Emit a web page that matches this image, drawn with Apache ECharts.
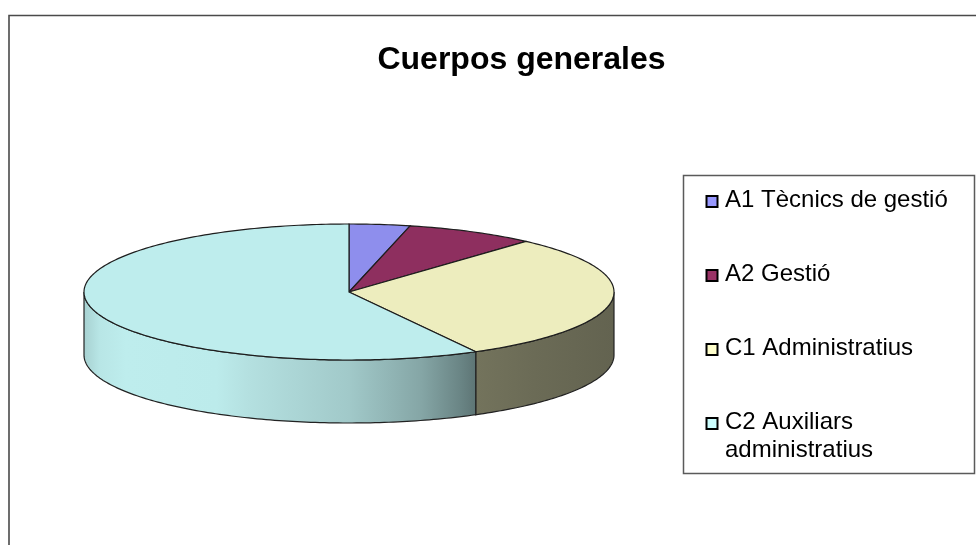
<!DOCTYPE html>
<html>
<head>
<meta charset="utf-8">
<style>
html,body{margin:0;padding:0;background:#fff;}
#chart{width:976px;height:545px;}
</style>
<script src="https://cdn.jsdelivr.net/npm/echarts@6/dist/echarts.min.js"></script>
</head>
<body>
<div id="chart"></div>
<script>
// ---- data ----
const titleText = 'Cuerpos generales';
const categories = ['A1 Tècnics de gestió', 'A2 Gestió', 'C1 Administratius', 'C2 Auxiliars administratius'];
const values = [14, 30, 115, 219];
const colors = ['#9999FF', '#993366', '#FFFFCC', '#CCFFFF'];

// ---- layout (styling only) ----
const CX = 349, CY = 292, RX = 265, RY = 68, DEPTH = 63;
const TOP_F = 0.93;
const SIDE_STOPS = [[0, 0.82], [0.03, 0.9], [0.08, 0.93], [0.25, 0.92], [0.31, 0.88], [0.5, 0.79],
  [0.636, 0.65], [0.71, 0.52], [0.743, 0.45], [0.85, 0.42], [1, 0.39]];

function shade(hex, f) {
  const n = parseInt(hex.slice(1), 16);
  const r = Math.round(((n >> 16) & 255) * f), g = Math.round(((n >> 8) & 255) * f), b = Math.round((n & 255) * f);
  return 'rgb(' + r + ',' + g + ',' + b + ')';
}
function pt(t, dy) {
  return [CX + RX * Math.sin(t), CY - RY * Math.cos(t) + (dy || 0)];
}
function arc(a, b, dy) {
  const n = Math.max(2, Math.ceil((b - a) / Math.PI * 180));
  const out = [];
  for (let k = 0; k <= n; k++) out.push(pt(a + (b - a) * k / n, dy));
  return out;
}
const total = values.reduce((s, v) => s + v, 0);

function renderItem(params, api) {
  const idx = params.dataIndex;
  let before = 0;
  for (let k = 0; k < idx; k++) before += values[k];
  const t0 = before / total * Math.PI * 2;
  const t1 = t0 + api.value(0) / total * Math.PI * 2;
  const base = colors[idx];
  const children = [];
  const a = Math.max(t0, Math.PI / 2), b = Math.min(t1, Math.PI * 1.5);
  if (a < b) {
    const topArc = arc(a, b, 0);
    const botArc = arc(a, b, DEPTH).reverse();
    children.push({
      type: 'polygon',
      shape: { points: topArc.concat(botArc) },
      style: {
        fill: {
          type: 'linear', global: true,
          x: CX - RX, y: 0, x2: CX + RX, y2: 0,
          colorStops: SIDE_STOPS.map(s => ({ offset: s[0], color: shade(base, s[1]) }))
        },
        stroke: '#222', lineWidth: 1.2
      }
    });
  }
  children.push({
    type: 'polygon',
    shape: { points: [[CX, CY]].concat(arc(t0, t1, 0)) },
    style: { fill: shade(base, TOP_F), stroke: '#1e1e1e', lineWidth: 1.2 }
  });
  return { type: 'group', children: children };
}

// legend graphic
const legendEls = [{
  type: 'rect', shape: { x: 683.5, y: 175.5, width: 291, height: 298 },
  style: { fill: '#fff', stroke: '#5a5a5a', lineWidth: 1.5 }, z: 1
}];
categories.forEach((name, i) => {
  const top = 186 + i * 74;
  legendEls.push({
    type: 'rect', shape: { x: 706.5, y: top + 10, width: 11, height: 11 },
    style: { fill: colors[i], stroke: '#000', lineWidth: 2 }, z: 2
  });
  legendEls.push({
    type: 'text', x: 725, y: top, z: 2,
    style: {
      text: name, width: 252, overflow: 'break',
      font: '24px "Liberation Sans", Arial, sans-serif', lineHeight: 28,
      fill: '#000', verticalAlign: 'top', align: 'left'
    }
  });
});

const chart = echarts.init(document.getElementById('chart'), null, { renderer: 'canvas' });
chart.setOption({
  animation: false,
  backgroundColor: '#fff',
  title: {
    text: titleText, left: 516.5, top: 55, textAlign: 'center', textVerticalAlign: 'middle',
    textStyle: { fontFamily: '"Liberation Sans", Arial, sans-serif', fontWeight: 'bold', fontSize: 32, color: '#000' }
  },
  graphic: [{
    type: 'rect', shape: { x: 9, y: 15.5, width: 1100, height: 700 },
    style: { fill: 'none', stroke: '#4a4a4a', lineWidth: 1.6 }, z: 0, silent: true
  }].concat(legendEls),
  series: [{
    type: 'custom', coordinateSystem: 'none',
    data: values.map((v, i) => ({ name: categories[i], value: v })),
    renderItem: renderItem
  }]
});
</script>
</body>
</html>
